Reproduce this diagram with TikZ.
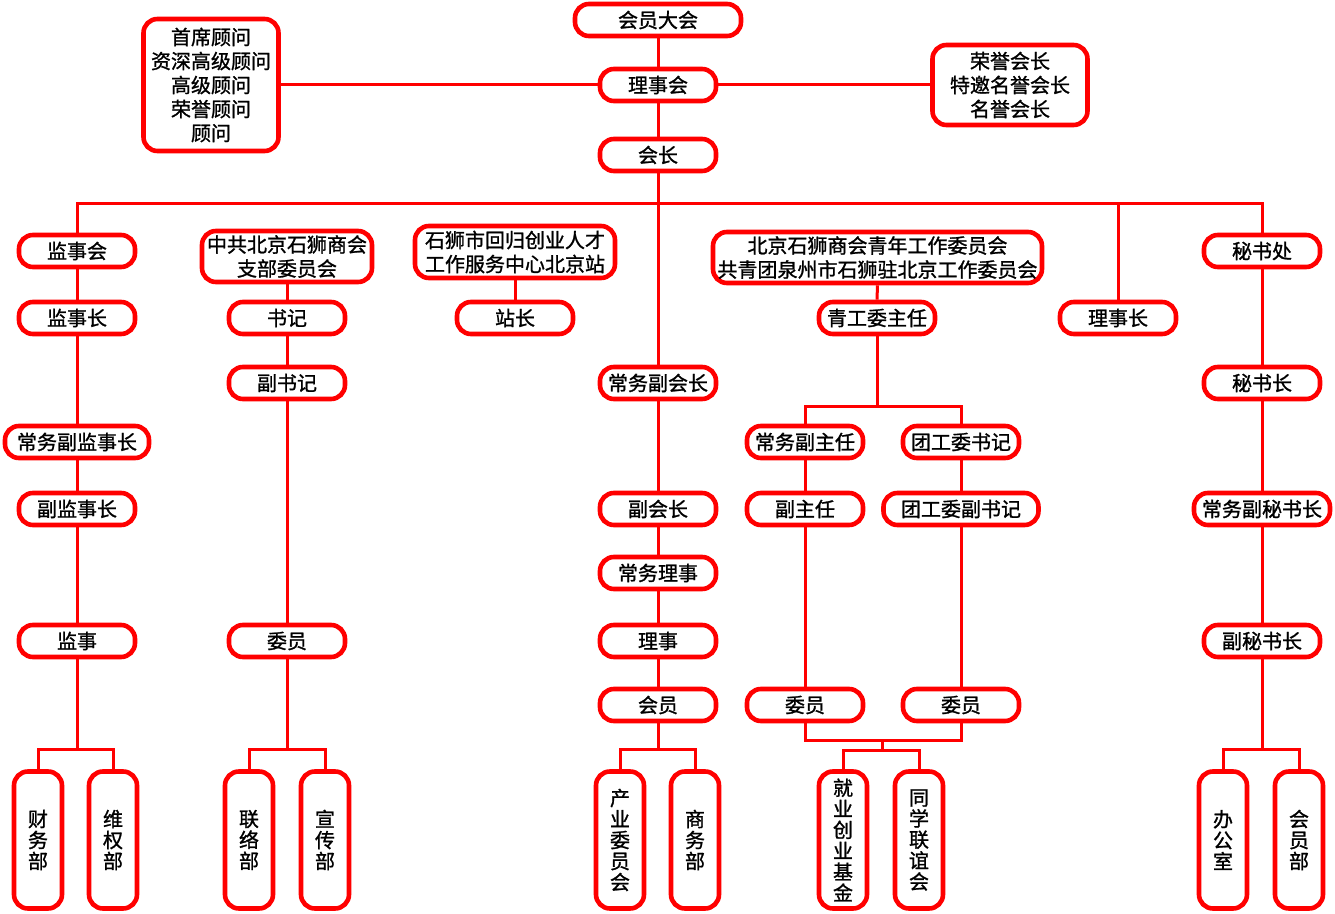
\documentclass[tikz,border=0pt]{standalone}
\usepackage{fontspec}
\setmainfont{Noto Sans CJK SC}[FakeBold=1.2]
\usepackage{tikz}

\tikzset{
  org/.style={draw=red, line width=2.3pt, rounded corners=7pt, fill=white, inner sep=0pt,
    minimum width=58pt, minimum height=16pt, align=center, font=\fontsize{10}{12}\selectfont},
  vorg/.style={org, minimum width=24pt, minimum height=68.5pt, font=\fontsize{10}{10.5}\selectfont},
  link/.style={draw=red, line width=1.5pt},
}

\begin{document}
\begin{tikzpicture}[x=0.5pt, y=-0.5pt]
\useasboundingbox (0,0) rectangle (1335,914);

% Top
\node[org, minimum width=83pt] (dahui) at (658,20) {会员大会};
\node[org] (lishihui) at (658,85) {理事会};
\node[org] (huizhang) at (658,155) {会长};
\node[org, minimum width=67.5pt, minimum height=66pt] (guwen) at (211,85) {首席顾问\\资深高级顾问\\高级顾问\\荣誉顾问\\顾问};
\node[org, minimum width=77.5pt, minimum height=40pt] (rongyu) at (1010,85) {荣誉会长\\特邀名誉会长\\名誉会长};

% Second row
\node[org] (jianshihui) at (77,251) {监事会};
\node[org, minimum width=85pt, minimum height=25.5pt] (zhonggong) at (287,256.5) {中共北京石狮商会\\支部委员会};
\node[org, minimum width=100pt, minimum height=26pt] (shishi) at (515,252) {石狮市回归创业人才\\工作服务中心北京站};
\node[org, minimum width=164.5pt, minimum height=25.5pt] (qingnian) at (877.5,257.5) {北京石狮商会青年工作委员会\\共青团泉州市石狮驻北京工作委员会};
\node[org] (mishuchu) at (1262,251) {秘书处};

% Third row
\node[org] (jianshizhang) at (77,318) {监事长};
\node[org] (shuji) at (287,318) {书记};
\node[org] (zhanzhang) at (515,318) {站长};
\node[org] (qgwzr) at (877,318) {青工委主任};
\node[org] (lishizhang) at (1118,318) {理事长};

\node[org] (fushuji) at (287,383) {副书记};
\node[org] (cwfhz) at (658,383) {常务副会长};
\node[org] (mishuzhang) at (1262,383) {秘书长};

\node[org, minimum width=72pt] (cwfjsz) at (77,442) {常务副监事长};
\node[org] (cwfzr) at (805,442) {常务副主任};
\node[org] (tgwsj) at (961,442) {团工委书记};

\node[org] (fjsz) at (77,509) {副监事长};
\node[org] (fhz) at (658,509) {副会长};
\node[org] (fzr) at (805,509) {副主任};
\node[org, minimum width=77.5pt] (tgwfsj) at (961,509) {团工委副书记};
\node[org, minimum width=68pt] (cwfmsz) at (1262,509) {常务副秘书长};

\node[org] (cwls) at (658,573) {常务理事};

\node[org] (jianshi) at (77,641) {监事};
\node[org] (weiyuan) at (287,641) {委员};
\node[org] (lishi) at (658,641) {理事};
\node[org] (fmsz) at (1262,641) {副秘书长};

\node[org] (huiyuan) at (658,705) {会员};
\node[org] (wy1) at (805,705) {委员};
\node[org] (wy2) at (961,705) {委员};

% Departments
\node[vorg] (caiwu) at (38,840) {财\\务\\部};
\node[vorg] (weiquan) at (113,840) {维\\权\\部};
\node[vorg] (lianluo) at (249,840) {联\\络\\部};
\node[vorg] (xuanchuan) at (325,840) {宣\\传\\部};
\node[vorg] (chanye) at (620,840) {产\\业\\委\\员\\会};
\node[vorg] (shangwu) at (695,840) {商\\务\\部};
\node[vorg] (jiuye) at (843,840) {就\\业\\创\\业\\基\\金};
\node[vorg] (tongxue) at (919,840) {同\\学\\联\\谊\\会};
\node[vorg] (bangong) at (1223,840) {办\\公\\室};
\node[vorg] (huiyuanbu) at (1299,840) {会\\员\\部};

% Junctions
\coordinate (bus) at (658,204);
\coordinate (f1) at (77,750);
\coordinate (f2) at (287,750);
\coordinate (f4) at (658,750);
\coordinate (f7) at (1262,750);
\coordinate (q1) at (877,407);
\coordinate (q2) at (882,741);
\coordinate (q3) at (882,751);

% Top links
\draw[link] (dahui.south) -- (lishihui.north);
\draw[link] (lishihui.south) -- (huizhang.north);
\draw[link] (guwen.east) -- (lishihui.west);
\draw[link] (lishihui.east) -- (rongyu.west);
\draw[link] (huizhang.south) -- (cwfhz.north);
\draw[link] (jianshihui.north) |- (bus) -| (mishuchu.north);
\draw[link] (lishizhang.north) -- (lishizhang.north |- bus);

% Supervisors
\draw[link] (jianshihui.south) -- (jianshizhang.north);
\draw[link] (jianshizhang.south) -- (cwfjsz.north);
\draw[link] (cwfjsz.south) -- (fjsz.north);
\draw[link] (fjsz.south) -- (jianshi.north);
\draw[link] (jianshi.south) -- (f1);
\draw[link] (caiwu.north) |- (f1) -| (weiquan.north);

% Party branch
\draw[link] (zhonggong.south) -- (shuji.north);
\draw[link] (shuji.south) -- (fushuji.north);
\draw[link] (fushuji.south) -- (weiyuan.north);
\draw[link] (weiyuan.south) -- (f2);
\draw[link] (lianluo.north) |- (f2) -| (xuanchuan.north);

% Station
\draw[link] (shishi.south) -- (zhanzhang.north);

% Vice presidents
\draw[link] (cwfhz.south) -- (fhz.north);
\draw[link] (fhz.south) -- (cwls.north);
\draw[link] (cwls.south) -- (lishi.north);
\draw[link] (lishi.south) -- (huiyuan.north);
\draw[link] (huiyuan.south) -- (f4);
\draw[link] (chanye.north) |- (f4) -| (shangwu.north);

% Youth committee
\draw[link] (qingnian.south) -- (qgwzr.north);
\draw[link] (qgwzr.south) -- (q1);
\draw[link] (cwfzr.north) |- (q1) -| (tgwsj.north);
\draw[link] (cwfzr.south) -- (fzr.north);
\draw[link] (fzr.south) -- (wy1.north);
\draw[link] (tgwsj.south) -- (tgwfsj.north);
\draw[link] (tgwfsj.south) -- (wy2.north);
\draw[link] (wy1.south) |- (q2) -| (wy2.south);
\draw[link] (q2) -- (q3);
\draw[link] (jiuye.north) |- (q3) -| (tongxue.north);

% Secretariat
\draw[link] (mishuchu.south) -- (mishuzhang.north);
\draw[link] (mishuzhang.south) -- (cwfmsz.north);
\draw[link] (cwfmsz.south) -- (fmsz.north);
\draw[link] (fmsz.south) -- (f7);
\draw[link] (bangong.north) |- (f7) -| (huiyuanbu.north);
\end{tikzpicture}
\end{document}
